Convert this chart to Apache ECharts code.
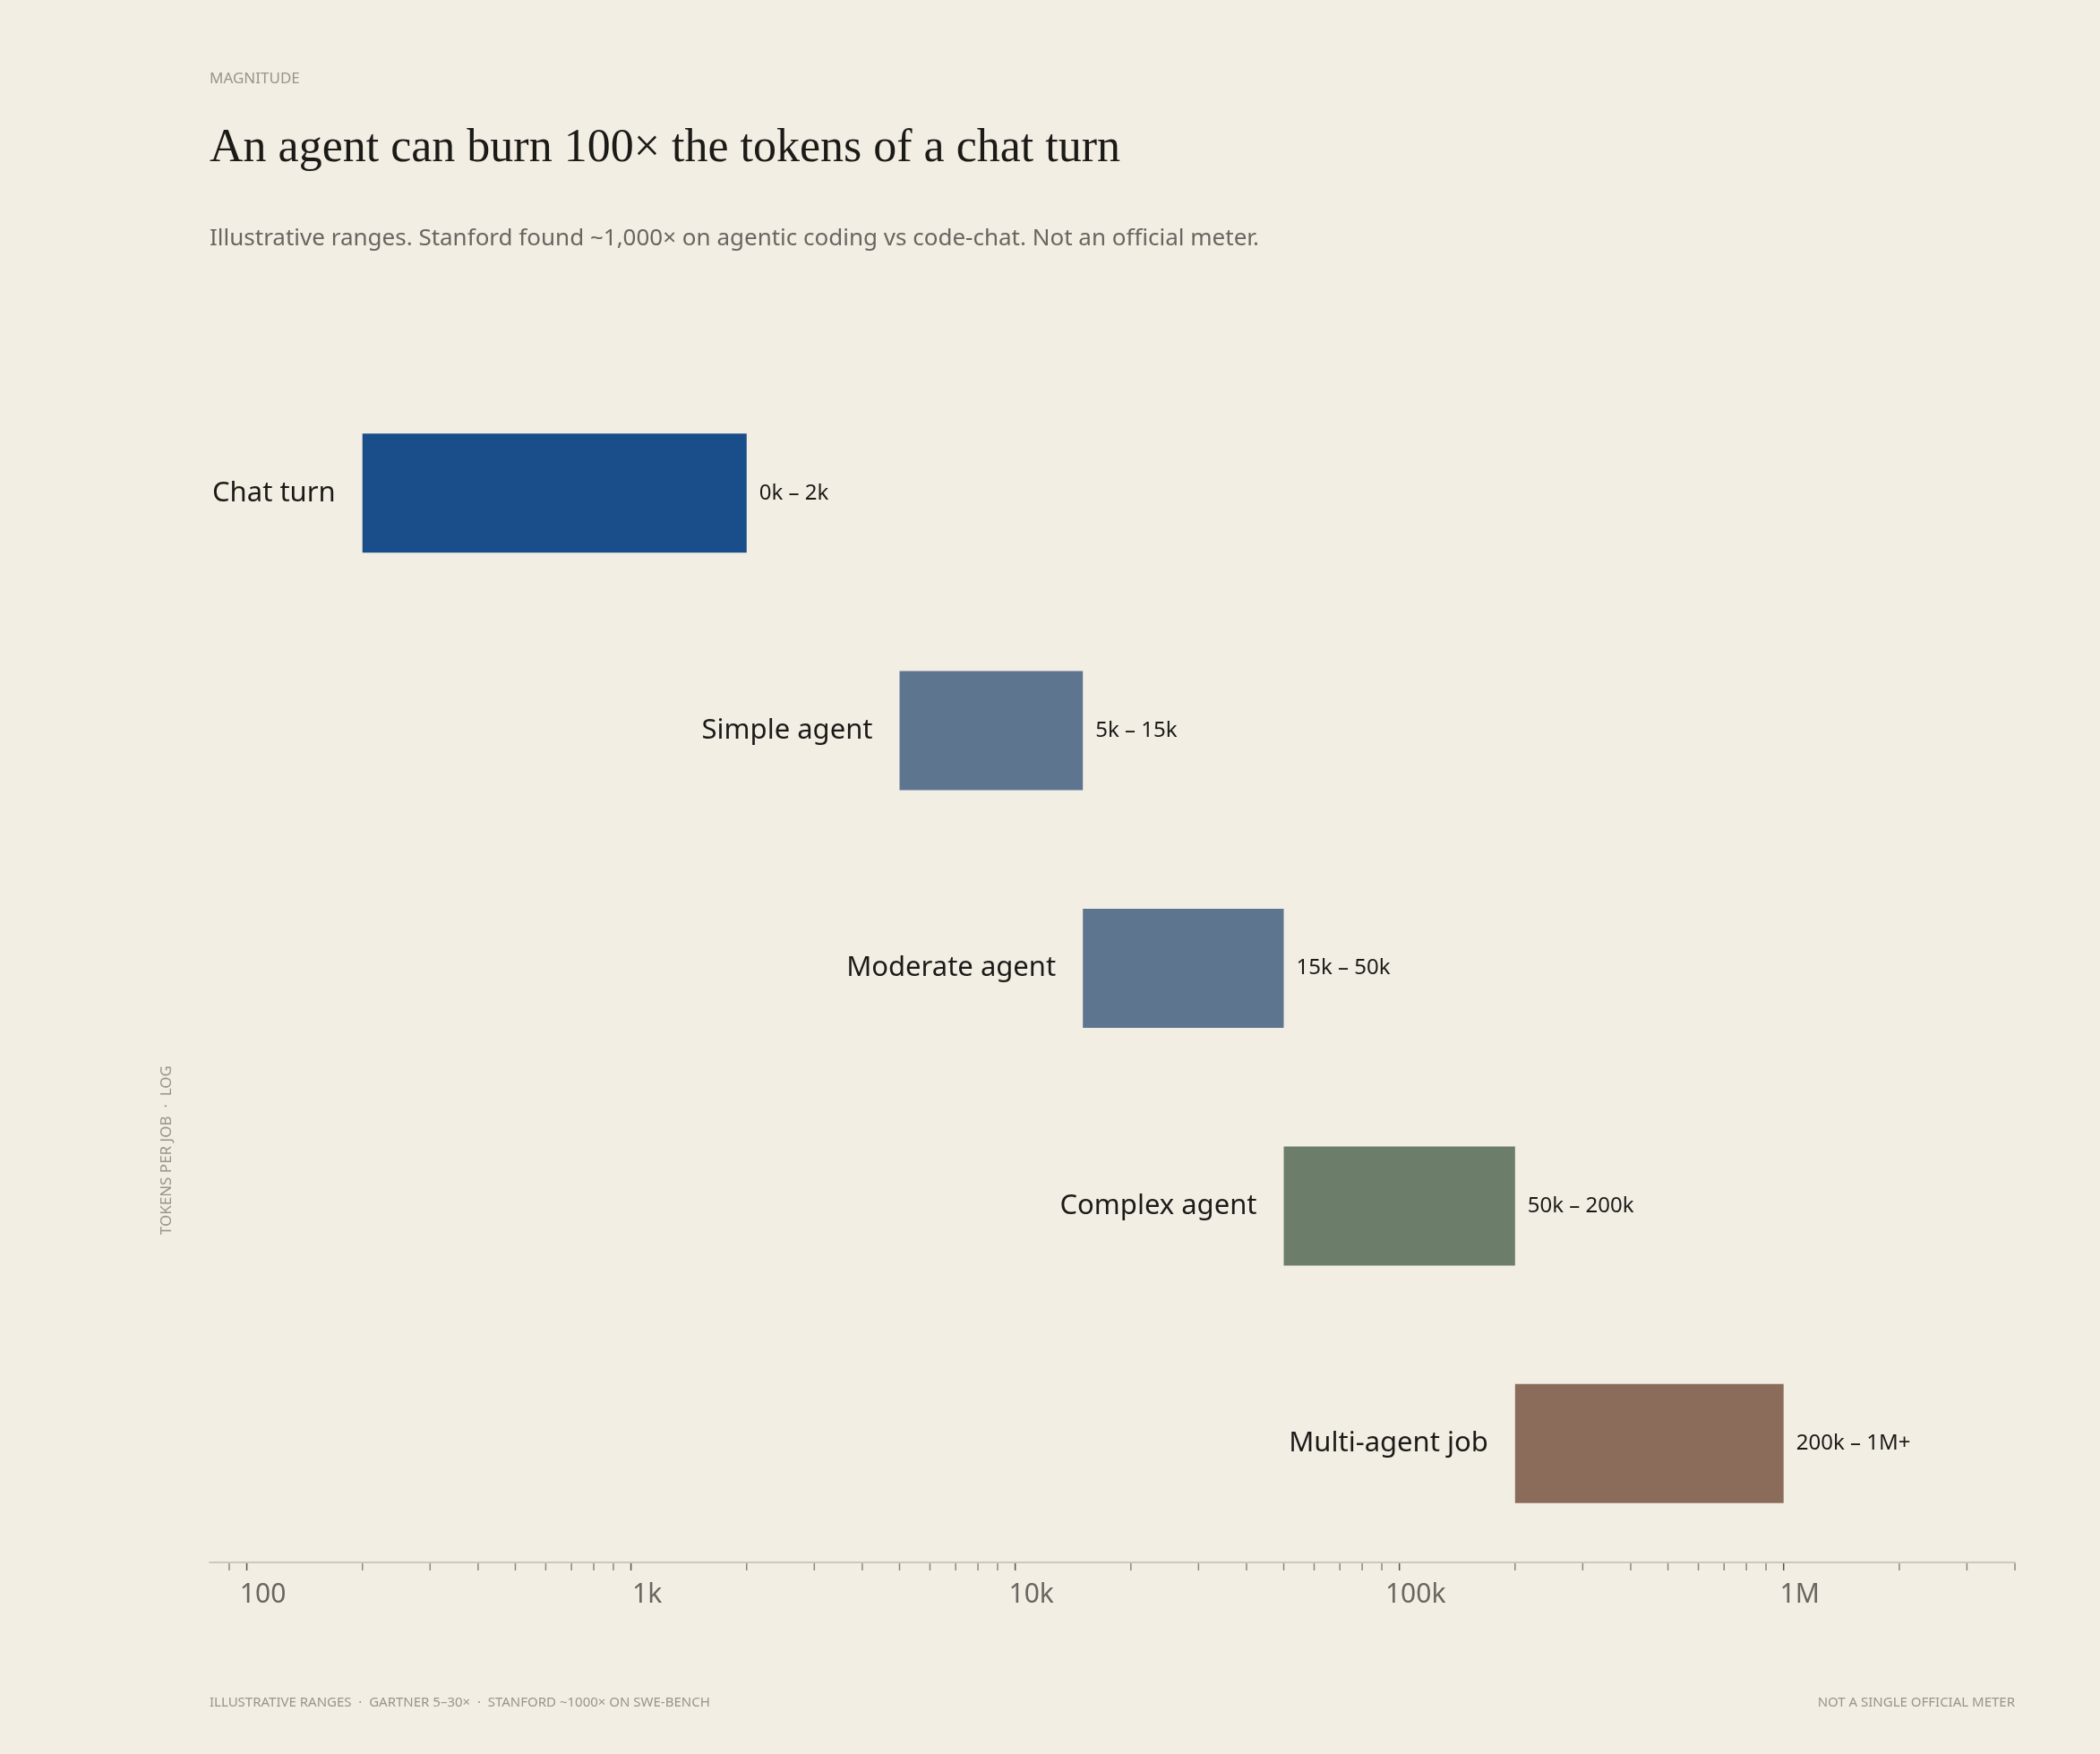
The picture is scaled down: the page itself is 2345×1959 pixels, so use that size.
<!DOCTYPE html>
<html lang="en">
<head>
    <meta charset="UTF-8">
    <title>Tokens per job</title>
    <script src="https://cdn.jsdelivr.net/npm/echarts@6/dist/echarts.min.js"></script>
    <style>
        html, body { margin: 0; background: #f2eee4; }
    </style>
</head>
<body>
    <div id="main" style="width: 2345px;height:1959px;"></div>
    <script>
        // data
        var categories = ['Chat turn', 'Simple agent', 'Moderate agent', 'Complex agent', 'Multi-agent job'];
        var rangeStart = [200, 5000, 15000, 50000, 200000];
        var rangeEnd = [2000, 15000, 50000, 200000, 1000000];
        var rangeLabels = ['0k – 2k', '5k – 15k', '15k – 50k', '50k – 200k', '200k – 1M+'];
        var barColors = ['#1a4e8a', '#5e7590', '#5e7590', '#6c7e6a', '#8b6b5a'];
        var majorTicks = [100, 1000, 10000, 100000, 1000000];
        var majorLabels = ['100', '1k', '10k', '100k', '1M'];
        var minorTicks = [90, 200, 300, 400, 500, 600, 700, 800, 900,
            2000, 3000, 4000, 5000, 6000, 7000, 8000, 9000,
            20000, 30000, 40000, 50000, 60000, 70000, 80000, 90000,
            200000, 300000, 400000, 500000, 600000, 700000, 800000, 900000,
            2000000, 3000000, 4000000];

        var font = '"Noto Sans", sans-serif';
        var myChart = echarts.init(document.getElementById('main'));

        var barData = categories.map(function (c, i) {
            return [i, rangeStart[i], rangeEnd[i]];
        });
        var tickData = majorTicks.map(function (v, i) { return [v, 1, majorLabels[i]]; })
            .concat(minorTicks.map(function (v) { return [v, 0, '']; }));

        var option = {
            backgroundColor: '#f2eee4',
            animation: false,
            grid: { left: 234, right: 95, top: 418, bottom: 214 },
            xAxis: {
                type: 'log', logBase: 10, min: 80, max: 4000000,
                axisLine: { show: true, lineStyle: { color: '#cfc8ba', width: 2 } },
                axisTick: { show: false }, axisLabel: { show: false }, splitLine: { show: false }
            },
            yAxis: {
                type: 'category', data: categories, inverse: true,
                axisLine: { show: false }, axisTick: { show: false }, axisLabel: { show: false }
            },
            graphic: [
                { type: 'text', left: 234, top: 80, style: { text: 'MAGNITUDE', fill: '#9a948a', font: '17px ' + font } },
                { type: 'text', left: 234, top: 140, style: { text: 'An agent can burn 100× the tokens of a chat turn', fill: '#1c1a17', font: '52px "Liberation Serif", serif' } },
                { type: 'text', left: 234, top: 254, style: { text: 'Illustrative ranges. Stanford found ~1,000× on agentic coding vs code-chat. Not an official meter.', fill: '#6b6560', font: '26px ' + font } },
                { type: 'text', left: 178, top: 1190, rotation: Math.PI / 2, style: { text: 'TOKENS PER JOB  ·  LOG', fill: '#9a948a', font: '17px ' + font } },
                { type: 'text', left: 234, top: 1894, style: { text: 'ILLUSTRATIVE RANGES  ·  GARTNER 5–30×  ·  STANFORD ~1000× ON SWE-BENCH', fill: '#9a948a', font: '15px ' + font } },
                { type: 'text', right: 95, top: 1894, style: { text: 'NOT A SINGLE OFFICIAL METER', fill: '#9a948a', font: '15px ' + font, align: 'right' } }
            ],
            series: [
                {
                    type: 'custom',
                    encode: { x: [1, 2], y: 0 },
                    data: barData,
                    renderItem: function (params, api) {
                        var i = api.value(0);
                        var p0 = api.coord([api.value(1), i]);
                        var p1 = api.coord([api.value(2), i]);
                        var h = 133;
                        return {
                            type: 'group',
                            children: [
                                { type: 'rect', shape: { x: p0[0], y: p0[1] - h / 2, width: p1[0] - p0[0], height: h }, style: { fill: barColors[i] } },
                                { type: 'text', style: { x: p0[0] - 30, y: p0[1], text: categories[i], fill: '#1c1a17', font: '31px ' + font, align: 'right', verticalAlign: 'middle' } },
                                { type: 'text', style: { x: p1[0] + 14, y: p0[1], text: rangeLabels[i], fill: '#1c1a17', font: '24px ' + font, align: 'left', verticalAlign: 'middle' } }
                            ]
                        };
                    }
                },
                {
                    type: 'custom',
                    encode: { x: 0 },
                    data: tickData,
                    renderItem: function (params, api) {
                        var x = api.coord([api.value(0), 0])[0];
                        var y = params.coordSys.y + params.coordSys.height;
                        var major = api.value(1) === 1;
                        var children = [
                            { type: 'line', shape: { x1: x, y1: y + 1, x2: x, y2: y + 9 }, style: { stroke: major ? '#555' : '#888', lineWidth: 1.5 } }
                        ];
                        if (major) {
                            children.push({ type: 'text', style: { x: x + 18, y: y + 36, text: majorLabels[majorTicks.indexOf(api.value(0))], fill: '#6b6560', font: '30px ' + font, align: 'center', verticalAlign: 'middle' } });
                        }
                        return { type: 'group', children: children };
                    }
                }
            ]
        };
        myChart.setOption(option);
    </script>
</body>
</html>
